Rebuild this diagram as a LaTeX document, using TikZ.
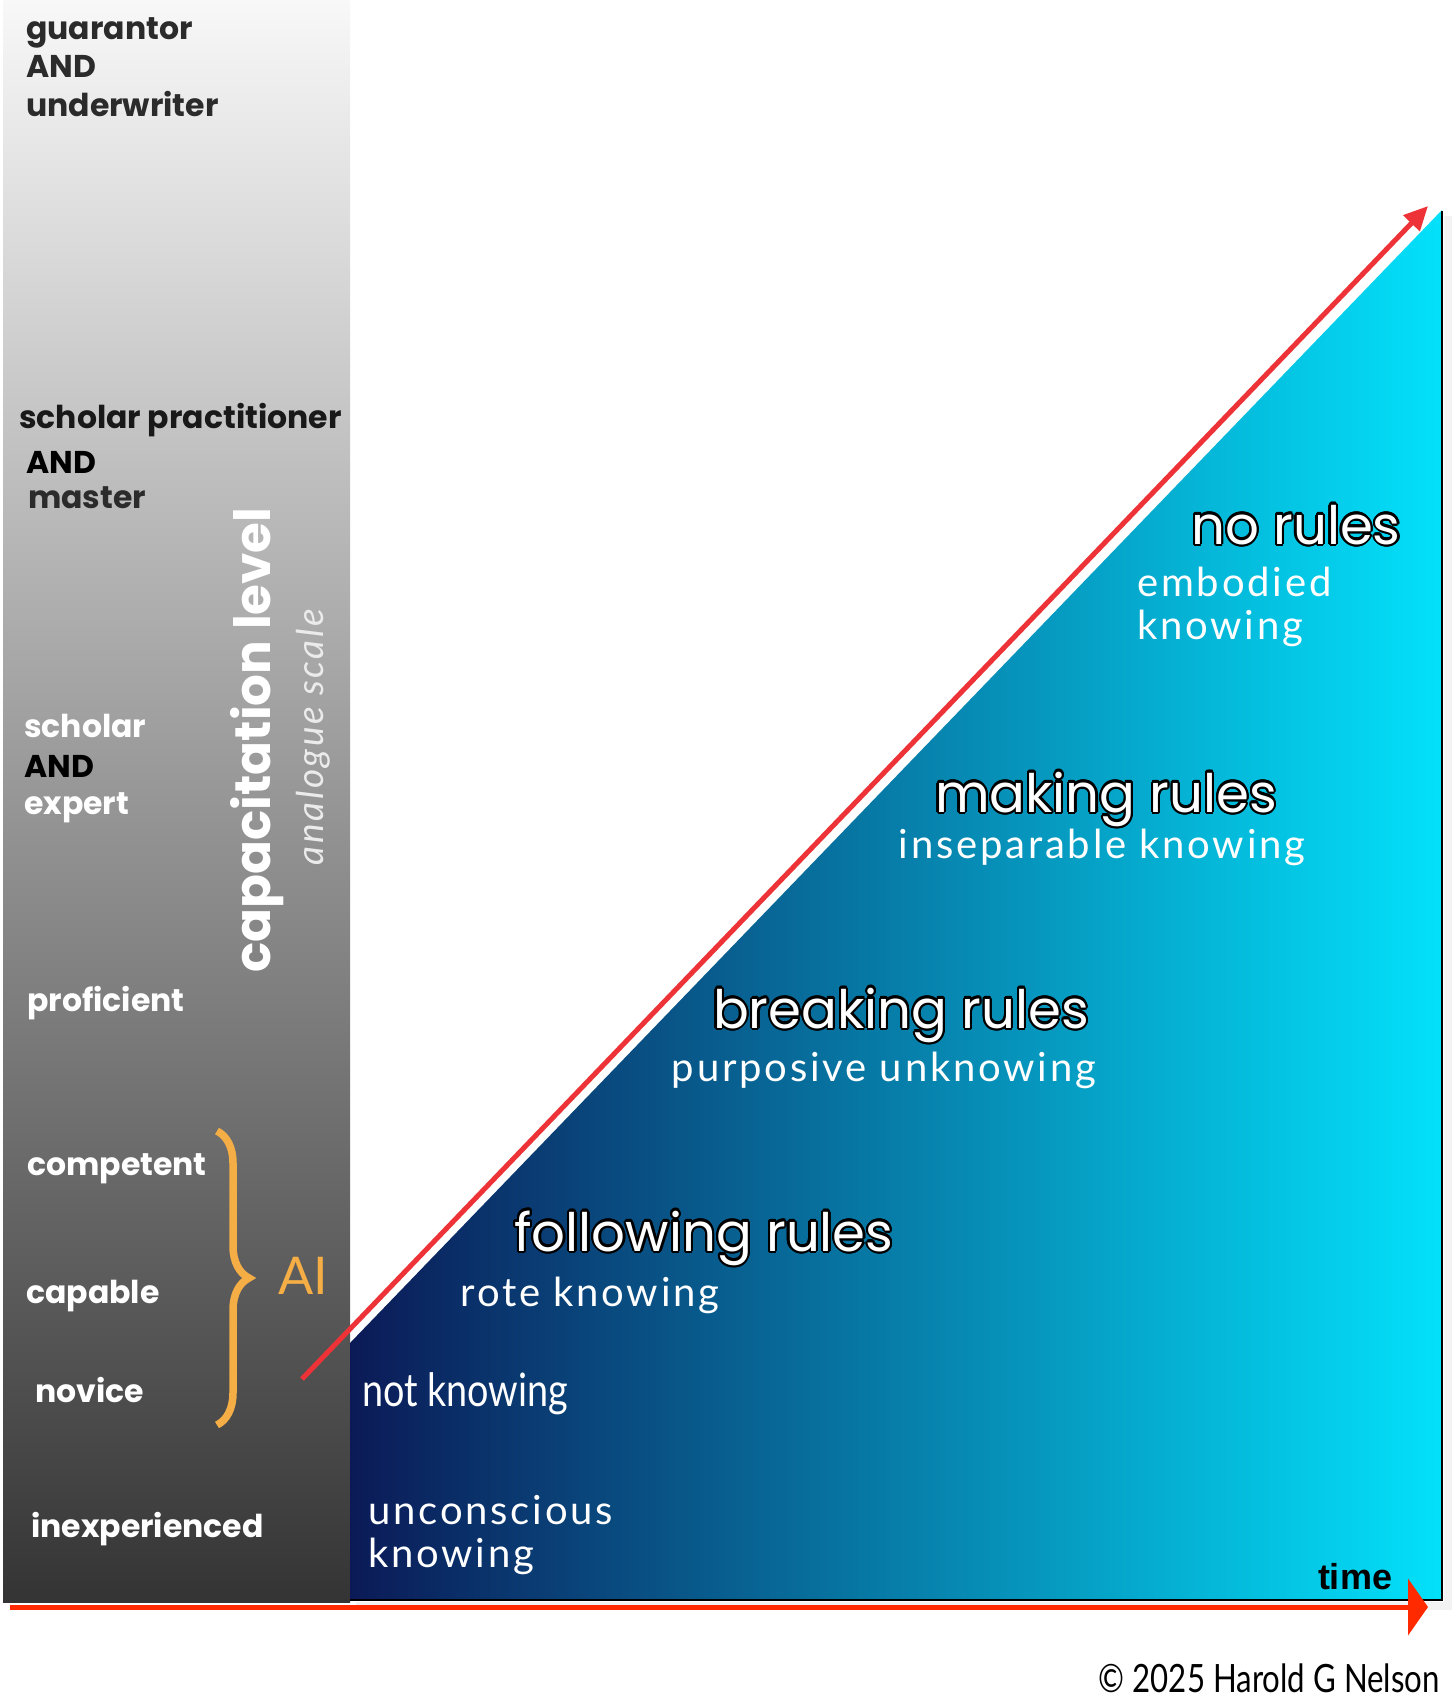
\documentclass[tikz,border=0pt]{standalone}
\usepackage{fontspec}
\usepackage{contour}
\usetikzlibrary{arrows.meta,decorations.pathreplacing}
\setmainfont{Lato}
\newfontfamily\popp{Poppins}
\newfontfamily\lato{Lato}
\newfontfamily\latowide{Lato}[LetterSpace=7]
\newfontfamily\latocond{Lato}[FakeStretch=0.82]
\newfontfamily\latocondb{Lato}[FakeStretch=0.80]
\newfontfamily\libsans{Liberation Sans}
\contourlength{2.2pt}
\definecolor{redline}{HTML}{EE3338}
\definecolor{timered}{HTML}{FF2A00}
\definecolor{aiorange}{HTML}{F4AE45}
\definecolor{navy}{HTML}{0B1A57}
\definecolor{midblue}{HTML}{0880B2}
\definecolor{cyanend}{HTML}{03E1FB}
\definecolor{bartop}{HTML}{F8F8F8}
\definecolor{barmid}{HTML}{9B9B9B}
\definecolor{barbot}{HTML}{343434}
\definecolor{lbldark}{HTML}{2B2B2B}
\tikzset{
  lvl/.style={anchor=base west, inner sep=0pt, font=\popp\bfseries\fontsize{31.5}{37}\selectfont},
  head/.style={anchor=base, inner sep=0pt, text=white, font=\popp\fontsize{53}{60}\selectfont},
  sub/.style={anchor=base, inner sep=0pt, text=white, font=\latowide\fontsize{40}{46}\selectfont},
}
\begin{document}
\begin{tikzpicture}[x=1pt,y=-1pt]
\useasboundingbox (0,0) rectangle (1456,1697);
\fill[white] (0,0) rectangle (1456,1697);
% grey scale bar
\shade[top color=bartop, middle color=barmid, bottom color=barbot] (3,0) rectangle (350,1602);
% soft shadow of the triangle
\fill[black!5] (1444,216) rectangle (1452,1610);
\fill[black!5] (356,1602) rectangle (1452,1610);
% blue triangle
\shade[left color=navy, middle color=midblue, right color=cyanend]
  (350,1600) -- (350,1343) -- (1442,210) -- (1442,1600) -- cycle;
\draw[black, line width=2.5pt] (1442,211) -- (1442,1600) -- (350,1600);
% arrows
\coordinate (dstart) at (302,1379);
\coordinate (dtip) at (1428,206);
\draw[redline, line width=5pt, -{Triangle[length=24pt,width=22pt]}] (dstart) -- (dtip);
\coordinate (tstart) at (10,1607);
\coordinate (ttip) at (1428,1607);
\draw[timered, line width=5pt, -{Triangle[length=20pt,width=56pt]}] (tstart) -- (ttip);
% level labels
\node[lvl, text=lbldark] (g1) at (26,39) {guarantor};
\node[lvl, text=lbldark] (g2) at (26,77) {AND};
\node[lvl, text=lbldark] (g3) at (26,116) {underwriter};
\node[lvl, text=black!90] (sp1) at (19,428) {scholar practitioner};
\node[lvl, text=black] (sp2) at (26,473) {AND};
\node[lvl, text=lbldark] (sp3) at (28,508) {master};
\node[lvl, text=white] (se1) at (24,737) {scholar};
\node[lvl, text=black] (se2) at (24,777) {AND};
\node[lvl, text=white] (se3) at (24,814) {expert};
\node[lvl, text=white] (prof) at (27,1011) {proficient};
\node[lvl, text=white] (comp) at (27,1175) {competent};
\node[lvl, text=white] (capa) at (26,1303) {capable};
\node[lvl, text=white] (novi) at (35,1402) {novice};
\node[lvl, text=white] (inex) at (31,1537) {inexperienced};
% vertical titles
\node[rotate=90, anchor=base, inner sep=0pt, text=white, font=\popp\bfseries\fontsize{50}{56}\selectfont] (cap) at (270,740) {capacitation level};
\node[rotate=90, anchor=base, inner sep=0pt, text=white!92!black, font=\latowide\itshape\fontsize{37}{42}\selectfont] (ana) at (323,737) {analogue scale};
% AI brace
\coordinate (bt) at (217,1131);
\coordinate (bb) at (217,1425);
\draw[aiorange, line width=7.5pt, decorate, decoration={brace, amplitude=32pt}] (bt) -- (bb);
\node[anchor=base, inner sep=0pt, text=aiorange, font=\lato\fontsize{52}{56}\selectfont] (ai) at (303,1294) {AI};
% stage headings
\node[head] (nr) at (1296,544) {\contour{black}{no rules}};
\node[head] (mr) at (1106,812) {\contour{black}{making rules}};
\node[head] (br) at (901,1028) {\contour{black}{breaking rules}};
\node[head] (fr) at (704,1251) {\contour{black}{following rules}};
% knowing labels
\node[sub, anchor=base west] (emb1) at (1137,596) {embodied};
\node[sub, anchor=base west] (emb2) at (1137,639) {knowing};
\node[sub] (ins) at (1102,858) {inseparable knowing};
\node[sub] (pur) at (884,1081) {purposive unknowing};
\node[sub] (rote) at (590,1306) {rote knowing};
\node[sub, anchor=base west, font=\latocond\fontsize{46}{52}\selectfont] (notk) at (362,1406) {not knowing};
\node[sub, anchor=base west] (unc1) at (368,1524) {unconscious};
\node[sub, anchor=base west] (unc2) at (368,1567) {knowing};
% time and credit
\node[anchor=base, inner sep=0pt, font=\libsans\bfseries\fontsize{36}{40}\selectfont] (time) at (1355,1589) {time};
\node[anchor=base east, inner sep=0pt, font=\latocondb\fontsize{39}{44}\selectfont] (credit) at (1440,1692) {© 2025 Harold G Nelson};
\end{tikzpicture}
\end{document}
